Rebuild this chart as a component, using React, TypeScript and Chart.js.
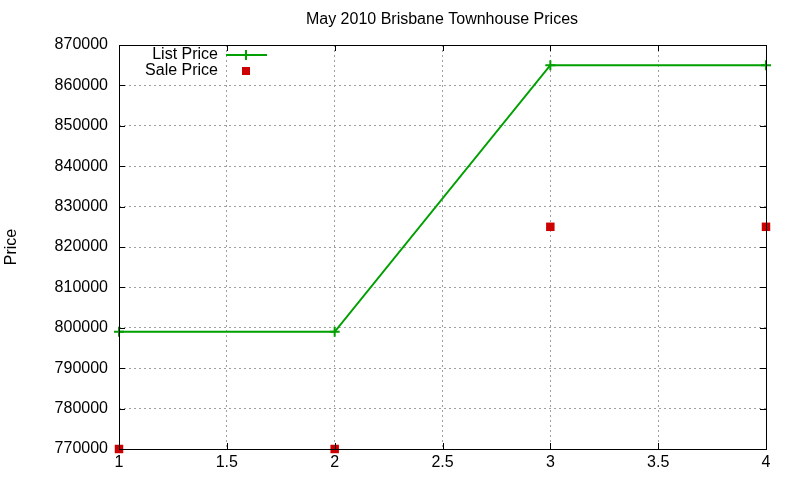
import React, { useEffect, useRef } from "react";
import { Chart, registerables } from "chart.js";

Chart.register(...registerables);

const xValues: number[] = [1, 2, 3, 4];
const listPrice: number[] = [799000, 799000, 865000, 865000];
const salePrice: number[] = [770000, 770000, 825000, 825000];
const seriesLabels: string[] = ["List Price", "Sale Price"];
const chartTitle = "May 2010 Brisbane Townhouse Prices";
const yTitle = "Price";

const FONT = "'Liberation Sans', Arial, sans-serif";
const GREEN = "#00a000";
const RED = "#cc0000";

// frame, inward ticks, title and legend drawn gnuplot-style
const gnuplotDecor = {
    id: "gnuplotDecor",
    afterDatasetsDraw(chart: any) {
        const { ctx, chartArea } = chart;
        const { left, right, top, bottom } = chartArea;
        const xs = chart.scales.x;
        const ys = chart.scales.y;
        ctx.save();
        ctx.strokeStyle = "#000";
        ctx.lineWidth = 1;
        ctx.beginPath();
        xs.ticks.forEach((t: any) => {
            const px = Math.round(xs.getPixelForValue(t.value)) + 0.5;
            ctx.moveTo(px, bottom);
            ctx.lineTo(px, bottom - 6);
            ctx.moveTo(px, top);
            ctx.lineTo(px, top + 6);
        });
        ys.ticks.forEach((t: any) => {
            const py = Math.round(ys.getPixelForValue(t.value)) + 0.5;
            ctx.moveTo(left, py);
            ctx.lineTo(left + 6, py);
            ctx.moveTo(right, py);
            ctx.lineTo(right - 6, py);
        });
        ctx.stroke();
        ctx.strokeRect(left + 0.5, top + 0.5, right - left, bottom - top);

        ctx.fillStyle = "#000";
        ctx.font = `16px ${FONT}`;
        ctx.textAlign = "center";
        ctx.textBaseline = "middle";
        ctx.fillText(chartTitle, 442, 20);

        // legend
        ctx.textAlign = "right";
        ctx.fillText(seriesLabels[0], 218, 55);
        ctx.fillText(seriesLabels[1], 218, 71);
        ctx.strokeStyle = GREEN;
        ctx.lineWidth = 2;
        ctx.beginPath();
        ctx.moveTo(226, 55);
        ctx.lineTo(267, 55);
        ctx.moveTo(246, 50);
        ctx.lineTo(246, 60);
        ctx.stroke();
        ctx.fillStyle = RED;
        ctx.fillRect(242, 67, 8, 8);
        ctx.restore();
    },
};

const App: React.FC = () => {
    const chartRef = useRef<HTMLCanvasElement | null>(null);
    const chartInstance = useRef<Chart | null>(null);

    useEffect(() => {
        document.body.style.margin = "0";
        if (chartInstance.current) {
            chartInstance.current.destroy();
        }
        if (!chartRef.current) return;
        const ctx = chartRef.current.getContext("2d");
        if (!ctx) return;

        chartInstance.current = new Chart(ctx, {
            type: "scatter",
            data: {
                datasets: [
                    {
                        label: seriesLabels[0],
                        data: xValues.map((x, i) => ({ x, y: listPrice[i] })),
                        showLine: true,
                        borderColor: GREEN,
                        backgroundColor: GREEN,
                        borderWidth: 2,
                        pointStyle: "cross",
                        pointRadius: 5,
                        pointBorderWidth: 2,
                        clip: false as any,
                    },
                    {
                        label: seriesLabels[1],
                        data: xValues.map((x, i) => ({ x, y: salePrice[i] })),
                        borderColor: RED,
                        backgroundColor: RED,
                        pointStyle: "rect",
                        pointRadius: 6,
                        pointBorderWidth: 0,
                        clip: false as any,
                    },
                ],
            },
            options: {
                animation: false,
                responsive: false,
                layout: { padding: { left: 0, top: 45, right: 34, bottom: 0 } },
                plugins: {
                    legend: { display: false },
                    tooltip: { enabled: false },
                },
                scales: {
                    x: {
                        type: "linear",
                        min: 1,
                        max: 4,
                        ticks: {
                            stepSize: 0.5,
                            color: "#000",
                            font: { family: FONT, size: 16 },
                            padding: 4,
                            callback: (v: any) => String(v),
                        },
                        grid: {
                            color: "#a0a0a0",
                            tickLength: 0,
                            drawTicks: false,
                        },
                        border: { display: false, dash: [2, 3] },
                        afterFit: (scale: any) => {
                            scale.height = 31;
                        },
                    },
                    y: {
                        min: 770000,
                        max: 870000,
                        ticks: {
                            stepSize: 10000,
                            color: "#000",
                            font: { family: FONT, size: 16 },
                            padding: 11,
                            callback: (v: any) => String(v),
                        },
                        grid: {
                            color: "#a0a0a0",
                            drawTicks: false,
                        },
                        border: { display: false, dash: [2, 3] },
                        title: {
                            display: true,
                            text: yTitle,
                            color: "#000",
                            font: { family: FONT, size: 16 },
                            padding: { top: 2, bottom: 0 },
                        },
                        afterFit: (scale: any) => {
                            scale.width = 119;
                        },
                    },
                },
            },
            plugins: [gnuplotDecor],
        });

        return () => {
            if (chartInstance.current) {
                chartInstance.current.destroy();
                chartInstance.current = null;
            }
        };
    }, []);

    return <canvas ref={chartRef} width={800} height={480}></canvas>;
};

export default App;
